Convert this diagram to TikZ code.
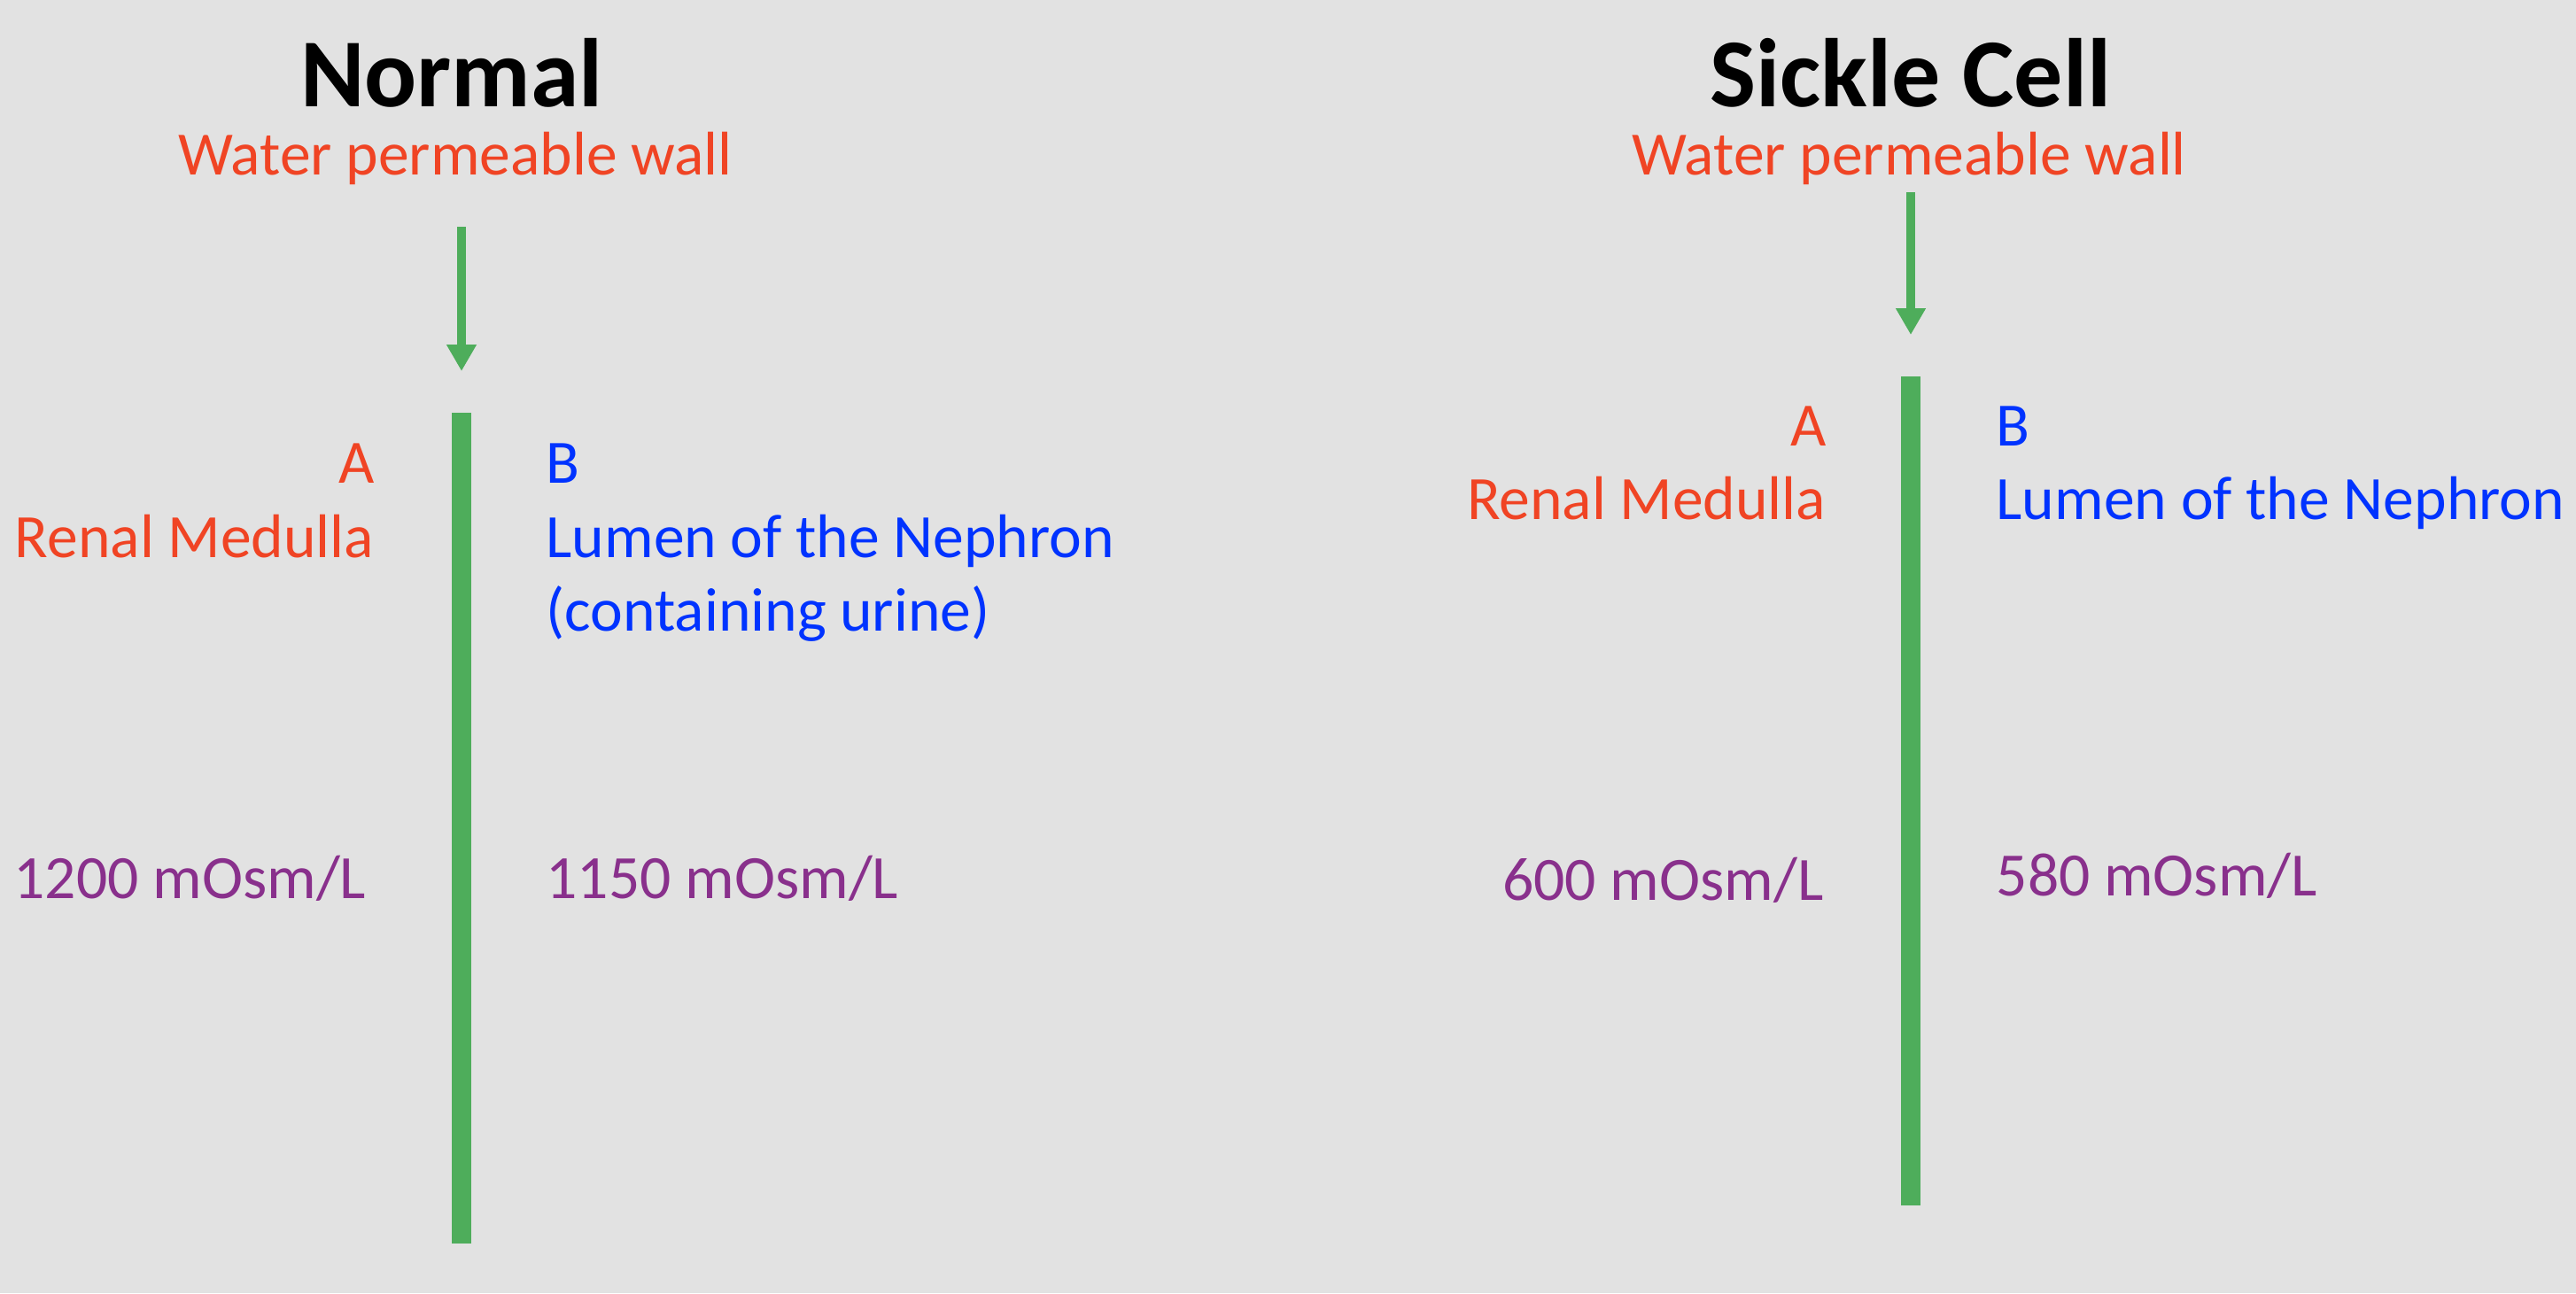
\documentclass[tikz,border=0pt]{standalone}
\usepackage{fontspec}
\setmainfont{Carlito}
\usepackage{tikz}
\usetikzlibrary{arrows.meta}
\definecolor{bgc}{RGB}{226,226,226}
\definecolor{redc}{RGB}{240,68,36}
\definecolor{bluec}{RGB}{0,51,255}
\definecolor{purc}{RGB}{137,48,140}
\definecolor{grnc}{RGB}{78,173,91}

\begin{document}
\begin{tikzpicture}[
  title/.style={font=\fontsize{31.3}{37}\selectfont\bfseries,inner sep=0pt,anchor=base},
  lbl/.style={font=\fontsize{19.8}{24}\selectfont,inner sep=0pt},
  wall/.style={grnc,line width=0.22cm},
  flow/.style={grnc,line width=0.1cm,-{Triangle[length=0.3cm,width=0.32cm]}}]
  \fill[bgc] (0,0) rectangle (29.08,-14.6);
  % normal kidney
  \begin{scope}
    \node[title] (tn) at (5.10,-1.20) {Normal};
    \node[lbl,redc,anchor=base] (wn) at (5.14,-1.97) {Water permeable wall};
    \coordinate (an1) at (5.21,-2.56);
    \coordinate (an2) at (5.21,-4.19);
    \draw[flow] (an1) -- (an2);
    \coordinate (wn1) at (5.21,-4.66);
    \coordinate (wn2) at (5.21,-14.04);
    \draw[wall] (wn1) -- (wn2);
    \node[lbl,redc,anchor=base east] (an) at (4.23,-5.45) {A};
    \node[lbl,redc,anchor=base east] (rn) at (4.23,-6.29) {Renal Medulla};
    \node[lbl,bluec,anchor=base west] (bn) at (6.16,-5.45) {B};
    \node[lbl,bluec,anchor=base west] (ln) at (6.16,-6.29) {Lumen of the Nephron};
    \node[lbl,bluec,anchor=base west] (cn) at (6.16,-7.12) {(containing urine)};
    \node[lbl,purc,anchor=base west] (on1) at (0.15,-10.14) {1200 mOsm/L};
    \node[lbl,purc,anchor=base west] (on2) at (6.16,-10.14) {1150 mOsm/L};
  \end{scope}
  % sickle cell kidney
  \begin{scope}
    \node[title] (ts) at (21.57,-1.20) {Sickle Cell};
    \node[lbl,redc,anchor=base] (ws) at (21.55,-1.97) {Water permeable wall};
    \coordinate (as1) at (21.57,-2.17);
    \coordinate (as2) at (21.57,-3.78);
    \draw[flow] (as1) -- (as2);
    \coordinate (ws1) at (21.57,-4.25);
    \coordinate (ws2) at (21.57,-13.61);
    \draw[wall] (ws1) -- (ws2);
    \node[lbl,redc,anchor=base east] (as) at (20.62,-5.03) {A};
    \node[lbl,redc,anchor=base east] (rs) at (20.62,-5.86) {Renal Medulla};
    \node[lbl,bluec,anchor=base west] (bs) at (22.53,-5.03) {B};
    \node[lbl,bluec,anchor=base west] (ls) at (22.53,-5.86) {Lumen of the Nephron};
    \node[lbl,purc,anchor=base east] (os1) at (20.59,-10.16) {600 mOsm/L};
    \node[lbl,purc,anchor=base west] (os2) at (22.53,-10.11) {580 mOsm/L};
  \end{scope}
\end{tikzpicture}
\end{document}
